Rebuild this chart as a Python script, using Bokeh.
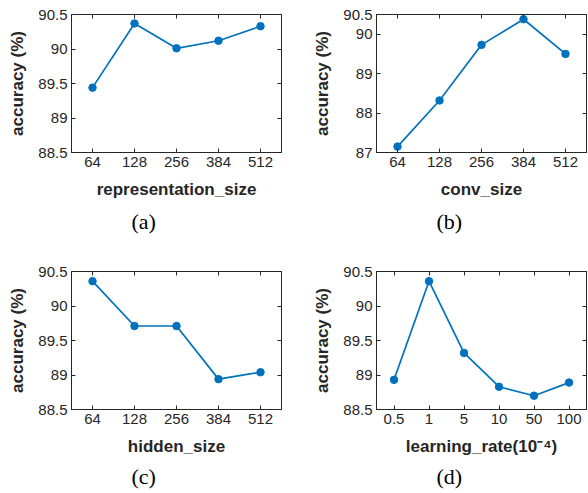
from bokeh.plotting import figure
from bokeh.layouts import column, row
from bokeh.models import (CategoricalAxis, LinearAxis, FixedTicker, Title,
                          CustomJSTickFormatter, FactorRange, Range1d)
from bokeh.embed import file_html
from bokeh.resources import INLINE

# ---------------- data ----------------
size_cats = ["64", "128", "256", "384", "512"]
lr_cats = ["0.5", "1", "5", "10", "50", "100"]

rep_acc = [89.44, 90.37, 90.01, 90.12, 90.33]
conv_acc = [87.15, 88.32, 89.73, 90.38, 89.50]
hidden_acc = [90.36, 89.71, 89.71, 88.94, 89.04]
lr_acc = [88.93, 90.36, 89.32, 88.83, 88.70, 88.89]

yticks_a = [88.5, 89, 89.5, 90, 90.5]
ylabels_a = ["88.5", "89", "89.5", "90", "90.5"]
yticks_b = [87, 88, 89, 90, 90.5]
ylabels_b = ["87", "88", "89", "90", "90.5"]

xlabels = ["representation_size", "conv_size", "hidden_size", "learning_rate(10\u207b\u2074)"]
captions = ["(a)", "(b)", "(c)", "(d)"]

AX = "#262626"
LINE = "#0072BD"
FONT = "Liberation Sans"


def panel(cats, vals, yticks, ylabels, xlabel, caption, yr, bl, br, bt, bb, cap_standoff):
    p = figure(x_range=FactorRange(*cats, range_padding=0),
               y_range=Range1d(yr[0], yr[1]),
               frame_width=210, frame_height=138,
               min_border_left=bl, min_border_right=br,
               min_border_top=bt, min_border_bottom=bb,
               output_backend="svg", toolbar_location=None,
               background_fill_color="white", border_fill_color="white")
    p.grid.visible = False
    p.outline_line_color = AX
    p.outline_line_width = 1

    p.line(cats, vals, line_color=LINE, line_width=1.7)
    p.scatter(cats, vals, size=7.5, fill_color=LINE, line_color=LINE)

    ymap = {t: l for t, l in zip(yticks, ylabels)}
    p.yaxis.ticker = FixedTicker(ticks=yticks)
    p.yaxis.major_label_overrides = ymap

    for ax in (p.xaxis[0], p.yaxis[0]):
        ax.axis_line_color = AX
        ax.major_tick_line_color = AX
        ax.major_tick_in = 4
        ax.major_tick_out = 0
        ax.minor_tick_line_color = None
        ax.major_label_text_font = FONT
        ax.major_label_text_font_size = "15px"
        ax.major_label_text_color = AX
        ax.major_label_standoff = 4
        ax.axis_label_text_font = FONT
        ax.axis_label_text_font_size = "17px"
        ax.axis_label_text_font_style = "bold"
        ax.axis_label_text_color = AX

    p.xaxis.axis_label = xlabel
    p.xaxis.axis_label_standoff = 10
    p.yaxis.axis_label = "accuracy (%)"
    p.yaxis.axis_label_standoff = 8

    empty = CustomJSTickFormatter(code="return ''")
    top = CategoricalAxis(formatter=empty, major_tick_in=4, major_tick_out=0,
                          major_label_standoff=0, axis_line_color=AX,
                          major_tick_line_color=AX)
    right = LinearAxis(ticker=FixedTicker(ticks=yticks), formatter=empty,
                       major_tick_in=4, major_tick_out=0, major_label_standoff=0,
                       axis_line_color=AX, major_tick_line_color=AX,
                       minor_tick_line_color=None)
    p.add_layout(top, "above")
    p.add_layout(right, "right")

    p.add_layout(Title(text=caption, align="left", offset=60,
                       standoff=cap_standoff,
                       text_font="Liberation Serif", text_font_size="22px",
                       text_font_style="normal", text_color="black"), "below")
    return p


pa = panel(size_cats, rep_acc, yticks_a, ylabels_a, xlabels[0], captions[0],
           (88.5, 90.5), 71, 13, 14, 94, 10)
pb = panel(size_cats, conv_acc, yticks_b, ylabels_b, xlabels[1], captions[1],
           (87, 90.5), 82, 2, 14, 94, 10)
pc = panel(size_cats, hidden_acc, yticks_a, ylabels_a, xlabels[2], captions[2],
           (88.5, 90.5), 71, 13, 25, 84, 6)
pd = panel(lr_cats, lr_acc, yticks_a, ylabels_a, xlabels[3], captions[3],
           (88.5, 90.5), 82, 2, 25, 84, 6)

layout = column(row(pa, pb), row(pc, pd))

open("out.html", "w").write(file_html(layout, INLINE))
